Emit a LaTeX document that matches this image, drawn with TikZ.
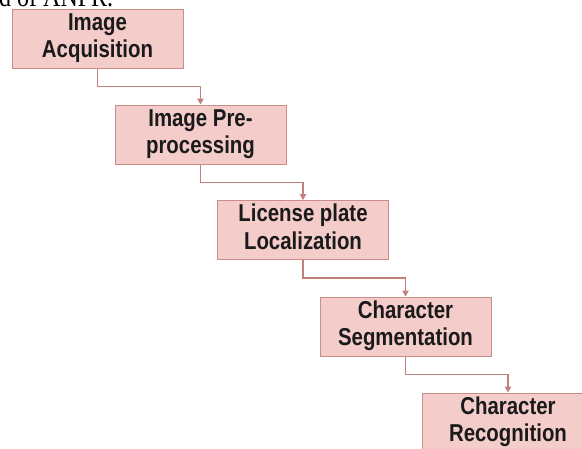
\documentclass[tikz,border=0pt]{standalone}
\usepackage{fontspec}
\setmainfont{Liberation Sans}
\newfontfamily\serifface{Liberation Serif}
\usetikzlibrary{arrows.meta}
\definecolor{boxfill}{HTML}{F4CCCA}
\definecolor{boxline}{HTML}{C98E8B}
\definecolor{arrowc}{HTML}{C27F7C}
\definecolor{inkc}{HTML}{1A1A1A}
\newcommand\stagetext[2]{\raisebox{-1.5pt}{\scalebox{1.02}[1.22]{\begin{tabular}{@{}c@{}}#1\\#2\end{tabular}}}}
\tikzset{
  stage/.style={draw=boxline, fill=boxfill, line width=1pt,
    minimum width=171pt, minimum height=59pt, inner sep=0pt,
    text=inkc, font=\bfseries\fontsize{20}{22.5}\selectfont},
  flow/.style={draw=arrowc, line width=1.3pt, -{Triangle[length=6pt,width=6.5pt]}}
}
\begin{document}
\begin{tikzpicture}[x=1pt,y=-1pt]
\useasboundingbox (0,0) rectangle (582,448);
\clip (0,0) rectangle (582,448);
\node[anchor=base west, inner sep=0pt, font=\serifface\fontsize{24}{24}\selectfont] (cap) at (-1,6) {\scalebox{1}[1.2]{d of ANPR.}};
\node[stage] (b1) at (97.5,38.5) {\stagetext{Image}{Acquisition}};
\node[stage] (b2) at (200.5,134.5) {\stagetext{Image Pre-}{processing}};
\node[stage] (b3) at (303,230) {\stagetext{License plate}{Localization}};
\node[stage] (b4) at (405.5,326.5) {\stagetext{Character}{Segmentation}};
\node[stage] (b5) at (508,422.5) {\stagetext{Character}{Recognition}};
\draw[flow] (b1.south) -- ++(0,18) -| (b2.north);
\draw[flow] (b2.south) -- ++(0,18) -| (b3.north);
\draw[flow] (b3.south) -- ++(0,18) -| (b4.north);
\draw[flow] (b4.south) -- ++(0,18) -| (b5.north);
\end{tikzpicture}
\end{document}
